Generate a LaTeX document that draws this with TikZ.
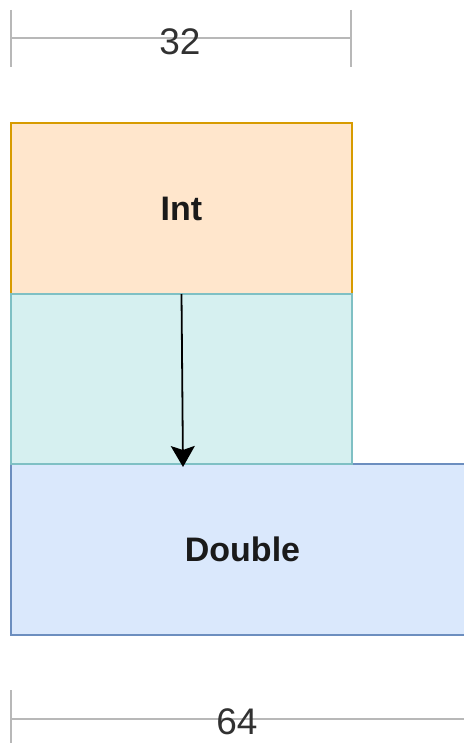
\documentclass[tikz,border=0pt]{standalone}
\usepackage{fontspec}
\setmainfont{Liberation Sans}
\usetikzlibrary{arrows.meta}
\definecolor{intfill}{HTML}{FFE6CC}
\definecolor{intdraw}{HTML}{D79B00}
\definecolor{tealfill}{HTML}{D6F0F0}
\definecolor{tealdraw}{HTML}{7FC0C4}
\definecolor{dblfill}{HTML}{DAE8FC}
\definecolor{dbldraw}{HTML}{6C8EBF}
\definecolor{dimgray}{HTML}{B8B8B8}
\definecolor{txt}{HTML}{1A1A1A}
\begin{document}
\begin{tikzpicture}[x=1pt,y=-1pt,
  block/.style={draw, line width=1.6pt, inner sep=0pt, outer sep=0pt,
    minimum width=341pt, minimum height=171pt, text=txt,
    font=\fontsize{34}{40}\selectfont\bfseries},
  dimline/.style={draw=dimgray, line width=1.8pt},
  dimlabel/.style={inner sep=0pt, text=txt!90, font=\fontsize{37}{44}\selectfont},
  conn/.style={draw=black, line width=1.8pt, -{Stealth[length=21pt, width=24pt, inset=4pt]}}]
\useasboundingbox (0,0) rectangle (463,743);
% blocks
\node[block, fill=intfill, draw=intdraw] (int) at (181.5,208.5) {Int};
\node[block, fill=dblfill, draw=dbldraw, minimum width=463pt] (dbl) at (242.5,549.5) {Double};
\node[block, fill=tealfill, draw=tealdraw, minimum height=170pt] (mid) at (181.5,379) {};
% connector
\coordinate (tip) at (183,467);
\draw[conn] (int.south) -- (tip);
% top dimension
\coordinate (t1a) at (11,10);
\coordinate (t1b) at (11,67);
\coordinate (t2a) at (351,10);
\coordinate (t2b) at (351,67);
\coordinate (tl) at (11,38);
\coordinate (tr) at (351,38);
\draw[dimline] (t1a) -- (t1b);
\draw[dimline] (t2a) -- (t2b);
\draw[dimline] (tl) -- (tr);
\node[dimlabel] (w32) at (180,42) {32};
% bottom dimension
\coordinate (b1a) at (11,690);
\coordinate (b1b) at (11,745);
\coordinate (bl) at (11,719);
\coordinate (br) at (465,719);
\draw[dimline] (b1a) -- (b1b);
\draw[dimline] (bl) -- (br);
\node[dimlabel] (w64) at (237,722) {64};
\end{tikzpicture}
\end{document}
